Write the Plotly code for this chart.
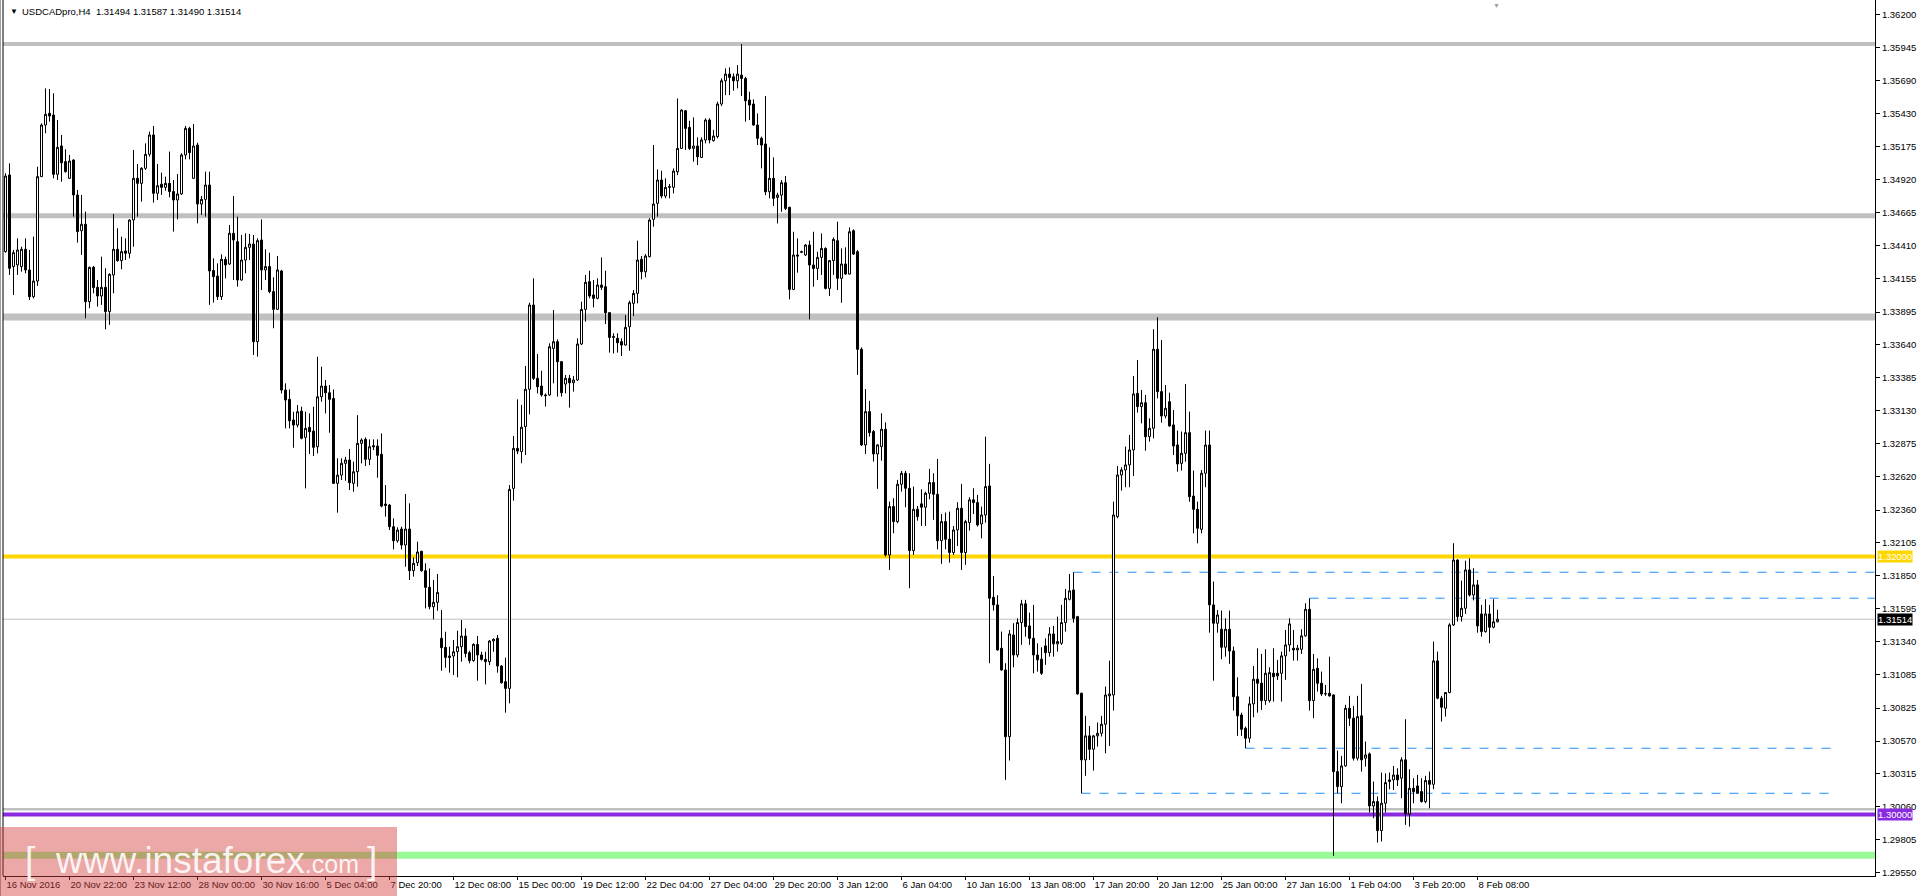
import plotly.graph_objects as go

# ---------------- data (USDCADpro, H4) ----------------
opens = [
1.34363,1.34957,1.34247,1.34260,1.34247,1.34381,1.34221,1.34014,1.34135,1.34944,
1.35344,1.35435,1.35422,1.34962,1.35182,1.35060,1.34931,1.35073,1.34802,1.34525,
1.34575,1.33975,1.34241,1.34086,1.34019,1.34086,1.33898,1.34182,1.34381,1.34293,
1.34368,1.34350,1.34608,1.34931,1.34892,1.35009,1.35117,1.35267,1.34815,1.34885,
1.34861,1.34892,1.34828,1.34763,1.34810,1.35112,1.35318,1.34931,1.35189,1.34732,
1.34768,1.34879,1.34216,1.34174,1.34014,1.34303,1.34267,1.34505,1.34440,1.34143,
1.34298,1.34396,1.34422,1.33665,1.34453,1.34221,1.34247,1.34053,1.33916,1.34213,
1.33290,1.33218,1.33058,1.33019,1.33127,1.32923,1.33001,1.32972,1.32851,1.33238,
1.33321,1.33269,1.33225,1.32567,1.32631,1.32722,1.32748,1.32567,1.32657,1.32877,
1.32908,1.32753,1.32859,1.32856,1.32792,1.32407,1.32399,1.32231,1.32122,1.32213,
1.32089,1.32213,1.31890,1.31952,1.32040,1.31890,1.31761,1.31611,1.31645,1.31366,
1.31296,1.31229,1.31229,1.31262,1.31301,1.31384,1.31255,1.31193,1.31319,1.31237,
1.31203,1.31185,1.31345,1.31366,1.31151,1.31030,1.30978,1.32528,1.32838,1.32813,
1.33007,1.33296,1.33949,1.33381,1.33321,1.33252,1.33252,1.33613,1.33665,1.33510,
1.33337,1.33381,1.33347,1.33368,1.33647,1.33915,1.34130,1.34027,1.34001,1.34104,
1.34091,1.33890,1.33698,1.33691,1.33665,1.33639,1.33781,1.33962,1.34039,1.34303,
1.34207,1.34324,1.34613,1.34737,1.34918,1.34794,1.34861,1.34861,1.34982,1.35163,
1.35455,1.35326,1.35163,1.35181,1.35093,1.35228,1.35383,1.35223,1.35254,1.35507,
1.35687,1.35739,1.35718,1.35687,1.35731,1.35705,1.35538,1.35507,1.35344,1.35241,
1.35197,1.34827,1.34931,1.34783,1.34801,1.34897,1.34706,1.34070,1.34337,1.34358,
1.34337,1.34414,1.34259,1.34233,1.34318,1.34388,1.34078,1.34293,1.34448,1.34156,
1.34267,1.34189,1.34525,1.34362,1.33606,1.32865,1.33123,1.32968,1.32795,1.32852,
1.32986,1.32012,1.32387,1.32271,1.32560,1.32645,1.32529,1.32046,1.32366,1.32408,
1.32382,1.32490,1.32573,1.32482,1.32123,1.32271,1.32134,1.32031,1.32206,1.32374,
1.32031,1.32263,1.32439,1.32418,1.32253,1.32322,1.32547,1.31684,1.31625,1.31289,
1.31121,1.30604,1.31392,1.31237,1.31488,1.31633,1.31462,1.31366,1.31237,1.31204,
1.31307,1.31255,1.31400,1.31323,1.31328,1.31488,1.31668,1.31741,1.31534,1.30940,
1.30424,1.30610,1.30506,1.30610,1.30630,1.30700,1.30920,1.30927,1.32309,1.32632,
1.32671,1.32710,1.32826,1.33265,1.33162,1.33192,1.32929,1.32994,1.33606,1.33278,
1.33089,1.33200,1.33020,1.32865,1.32722,1.32800,1.32960,1.32469,1.32366,1.32211,
1.32645,1.32864,1.31625,1.31483,1.31436,1.31297,1.31436,1.31268,1.30914,1.30772,
1.30669,1.30592,1.30858,1.31049,1.31018,1.30883,1.30883,1.31095,1.31095,1.31095,
1.31230,1.31315,1.31289,1.31276,1.31281,1.31385,1.31591,1.30883,1.31134,1.31018,
1.30935,1.30940,1.30927,1.30333,1.30217,1.30377,1.30824,1.30747,1.30437,1.30765,
1.30437,1.30470,1.30067,1.30101,1.29876,1.30088,1.30256,1.30269,1.30307,1.30282,
1.30424,1.30005,1.30204,1.30222,1.30178,1.30101,1.30264,1.30235,1.31191,1.30902,
1.30824,1.30946,1.31470,1.31973,1.31534,1.31599,1.31896,1.31702,1.31780,1.31555,
1.31418,1.31555,1.31452,1.31494]

highs = [
1.34970,1.35047,1.34376,1.34466,1.34401,1.34466,1.34376,1.34479,1.35021,1.35357,
1.35628,1.35623,1.35590,1.35383,1.35267,1.35156,1.35112,1.35078,1.34841,1.34802,
1.34673,1.34247,1.34252,1.34143,1.34324,1.34234,1.34195,1.34655,1.34544,1.34479,
1.34466,1.34613,1.35151,1.35042,1.35016,1.35202,1.35293,1.35337,1.35042,1.34975,
1.34944,1.35138,1.34918,1.34965,1.35125,1.35337,1.35331,1.35352,1.35207,1.34794,
1.34983,1.34983,1.34311,1.34272,1.34342,1.34324,1.34569,1.34794,1.34634,1.34492,
1.34505,1.34500,1.34492,1.34466,1.34613,1.34381,1.34355,1.34164,1.34329,1.34221,
1.33342,1.33295,1.33122,1.33174,1.33161,1.33122,1.33109,1.33161,1.33548,1.33471,
1.33368,1.33329,1.33295,1.32761,1.32761,1.32773,1.32833,1.32735,1.33096,1.32916,
1.32923,1.32908,1.32908,1.32908,1.32954,1.32554,1.32407,1.32296,1.32226,1.32231,
1.32484,1.32412,1.31993,1.32115,1.32045,1.31947,1.31908,1.31818,1.31864,1.31585,
1.31417,1.31301,1.31353,1.31425,1.31508,1.31443,1.31270,1.31327,1.31384,1.31262,
1.31262,1.31353,1.31366,1.31392,1.31159,1.31216,1.32554,1.32934,1.33218,1.33175,
1.33477,1.33967,1.34156,1.33569,1.33440,1.33264,1.33652,1.33910,1.33683,1.33515,
1.33407,1.33407,1.33399,1.33691,1.33975,1.34182,1.34215,1.34143,1.34156,1.34318,
1.34215,1.33895,1.33730,1.33730,1.33691,1.33872,1.33983,1.34065,1.34448,1.34329,
1.34344,1.34621,1.35189,1.35000,1.34990,1.34931,1.34887,1.35008,1.35550,1.35465,
1.35460,1.35377,1.35403,1.35248,1.35248,1.35396,1.35396,1.35305,1.35525,1.35705,
1.35783,1.35791,1.35744,1.35809,1.35972,1.35718,1.35602,1.35543,1.35434,1.35254,
1.35569,1.35171,1.35093,1.34819,1.34918,1.34949,1.34711,1.34517,1.34466,1.34370,
1.34422,1.34448,1.34517,1.34362,1.34504,1.34396,1.34298,1.34473,1.34595,1.34388,
1.34396,1.34551,1.34535,1.34375,1.33621,1.33298,1.33206,1.32981,1.32870,1.33110,
1.33040,1.32426,1.32452,1.32594,1.32663,1.32663,1.32645,1.32542,1.32392,1.32521,
1.32503,1.32679,1.32645,1.32756,1.32330,1.32341,1.32348,1.32237,1.32421,1.32563,
1.32284,1.32459,1.32529,1.32477,1.32387,1.32929,1.32718,1.31849,1.31700,1.31418,
1.31173,1.31431,1.31483,1.31521,1.31664,1.31664,1.31565,1.31625,1.31328,1.31297,
1.31366,1.31452,1.31462,1.31534,1.31625,1.31748,1.31864,1.31878,1.31540,1.30945,
1.30765,1.30687,1.30617,1.30713,1.30765,1.30992,1.31193,1.32425,1.32702,1.32691,
1.32852,1.32942,1.33399,1.33523,1.33291,1.33252,1.33071,1.33761,1.33854,1.33678,
1.33329,1.33270,1.33136,1.32976,1.32968,1.33337,1.33123,1.32666,1.32425,1.32671,
1.32976,1.32976,1.31806,1.31586,1.31581,1.31521,1.31581,1.31302,1.31064,1.30790,
1.30682,1.30914,1.31152,1.31289,1.31245,1.31281,1.31142,1.31289,1.31199,1.31263,
1.31431,1.31521,1.31431,1.31315,1.31436,1.31638,1.31676,1.31245,1.31211,1.31108,
1.31005,1.31224,1.30932,1.30496,1.30455,1.30850,1.30920,1.30842,1.30920,1.31013,
1.30566,1.30481,1.30256,1.30140,1.30326,1.30320,1.30326,1.30377,1.30359,1.30444,
1.30739,1.30351,1.30282,1.30307,1.30282,1.30300,1.30333,1.31341,1.31263,1.30920,
1.30950,1.31483,1.32103,1.31978,1.31813,1.31968,1.31986,1.31909,1.31818,1.31625,
1.31669,1.31625,1.31669,1.31587]

lows = [
1.34355,1.34182,1.34027,1.34182,1.34208,1.34195,1.33988,1.34001,1.34097,1.34944,
1.35280,1.35370,1.34931,1.34918,1.34905,1.34975,1.34925,1.34634,1.34433,1.34337,
1.33846,1.33924,1.34040,1.33937,1.33950,1.33761,1.33795,1.34040,1.34285,1.34226,
1.34298,1.34311,1.34401,1.34634,1.34750,1.34996,1.35099,1.34743,1.34763,1.34802,
1.34835,1.34784,1.34518,1.34613,1.34802,1.35078,1.35078,1.34925,1.34582,1.34647,
1.34634,1.33950,1.33968,1.33988,1.33988,1.34156,1.34260,1.34143,1.34092,1.34138,
1.34195,1.34298,1.33562,1.33549,1.34066,1.34143,1.34040,1.33769,1.33911,1.33264,
1.32993,1.32993,1.32843,1.33001,1.32908,1.32528,1.32794,1.32779,1.32799,1.33200,
1.33109,1.32959,1.32562,1.32340,1.32593,1.32587,1.32515,1.32502,1.32541,1.32722,
1.32701,1.32709,1.32825,1.32611,1.32381,1.32309,1.32205,1.32055,1.32107,1.32055,
1.31921,1.31818,1.31844,1.31926,1.31882,1.31598,1.31590,1.31513,1.31580,1.31115,
1.31138,1.31100,1.31082,1.31064,1.31185,1.31218,1.31172,1.31185,1.31038,1.31193,
1.31009,1.31159,1.31262,1.31100,1.31015,1.30790,1.30862,1.32433,1.32794,1.32723,
1.32787,1.33102,1.33368,1.33264,1.33239,1.33162,1.33245,1.33342,1.33239,1.33239,
1.33264,1.33154,1.33278,1.33360,1.33639,1.33820,1.34001,1.33931,1.33993,1.34065,
1.33802,1.33580,1.33574,1.33580,1.33554,1.33635,1.33595,1.33864,1.33962,1.34148,
1.34164,1.34318,1.34556,1.34634,1.34776,1.34776,1.34776,1.34814,1.34956,1.35158,
1.35150,1.35150,1.35060,1.35034,1.35088,1.35202,1.35202,1.35215,1.35241,1.35491,
1.35576,1.35576,1.35610,1.35628,1.35569,1.35370,1.35383,1.35339,1.35189,1.35008,
1.34801,1.34776,1.34716,1.34582,1.34672,1.34685,1.33993,1.34065,1.34200,1.34352,
1.34329,1.33838,1.34091,1.34143,1.34182,1.34070,1.34019,1.34182,1.34065,1.33967,
1.34182,1.34185,1.34337,1.33407,1.32857,1.32795,1.32929,1.32736,1.32524,1.32743,
1.32000,1.31896,1.32180,1.32258,1.32503,1.32382,1.31754,1.32012,1.32278,1.32237,
1.32237,1.32444,1.32284,1.32056,1.31943,1.32056,1.31953,1.32012,1.32082,1.31896,
1.31935,1.32201,1.32330,1.32232,1.32141,1.32263,1.31173,1.31581,1.31271,1.31116,
1.30269,1.30419,1.31142,1.31219,1.31315,1.31379,1.31315,1.31095,1.31108,1.31082,
1.31160,1.31224,1.31224,1.31263,1.31315,1.31418,1.31660,1.31488,1.30930,1.30165,
1.30300,1.30424,1.30341,1.30527,1.30605,1.30475,1.30532,1.30806,1.32296,1.32511,
1.32537,1.32537,1.32624,1.33115,1.33032,1.32820,1.32890,1.32916,1.33226,1.33038,
1.33071,1.33007,1.32787,1.32658,1.32666,1.32735,1.32425,1.32180,1.32102,1.32180,
1.32537,1.31410,1.31038,1.31410,1.31204,1.31224,1.31168,1.30806,1.30610,1.30610,
1.30514,1.30558,1.30754,1.30790,1.30811,1.30850,1.30868,1.30876,1.31044,1.30876,
1.31044,1.31263,1.31193,1.31193,1.31245,1.31379,1.30806,1.30747,1.30953,1.30920,
1.30920,1.30914,1.29680,1.30165,1.30088,1.30372,1.30687,1.30419,1.30419,1.30333,
1.30372,1.30016,1.29972,1.29783,1.29791,1.30016,1.30196,1.30191,1.30222,1.30127,
1.29920,1.29907,1.30088,1.30160,1.30093,1.30088,1.30049,1.30196,1.30894,1.30721,
1.30759,1.30940,1.31462,1.31496,1.31496,1.31555,1.31690,1.31660,1.31410,1.31379,
1.31410,1.31328,1.31444,1.31490]

closes = [
1.34949,1.34234,1.34355,1.34376,1.34381,1.34221,1.34014,1.34135,1.34944,1.35344,
1.35427,1.35414,1.34962,1.35171,1.35052,1.34983,1.35065,1.34802,1.34518,1.34575,
1.33975,1.34241,1.34084,1.34019,1.34086,1.33898,1.34187,1.34381,1.34293,1.34363,
1.34350,1.34608,1.34931,1.34892,1.35009,1.35117,1.35267,1.34815,1.34874,1.34861,
1.34892,1.34828,1.34763,1.34810,1.35112,1.35318,1.35130,1.35182,1.34732,1.34768,
1.34879,1.34213,1.34169,1.34014,1.34303,1.34260,1.34505,1.34453,1.34143,1.34298,
1.34396,1.34422,1.33665,1.34448,1.34221,1.34247,1.34053,1.33916,1.34221,1.33290,
1.33213,1.33052,1.33019,1.33122,1.32916,1.32993,1.32967,1.32846,1.33238,1.33321,
1.33269,1.33218,1.32567,1.32631,1.32722,1.32748,1.32572,1.32657,1.32877,1.32903,
1.32753,1.32851,1.32851,1.32784,1.32391,1.32396,1.32231,1.32122,1.32205,1.32089,
1.32213,1.31890,1.31947,1.32035,1.31890,1.31761,1.31611,1.31645,1.31722,1.31293,
1.31218,1.31218,1.31262,1.31301,1.31384,1.31249,1.31193,1.31319,1.31237,1.31203,
1.31185,1.31345,1.31358,1.31151,1.31022,1.30978,1.32520,1.32838,1.32817,1.33002,
1.33296,1.33949,1.33381,1.33316,1.33252,1.33247,1.33626,1.33665,1.33510,1.33270,
1.33381,1.33347,1.33368,1.33647,1.33915,1.34125,1.34019,1.34001,1.34104,1.34086,
1.33890,1.33698,1.33704,1.33657,1.33639,1.33776,1.33967,1.34039,1.34298,1.34207,
1.34329,1.34608,1.34732,1.34918,1.34794,1.34861,1.34866,1.34987,1.35163,1.35460,
1.35318,1.35163,1.35181,1.35098,1.35228,1.35383,1.35228,1.35259,1.35507,1.35687,
1.35739,1.35713,1.35687,1.35739,1.35705,1.35532,1.35499,1.35344,1.35241,1.35189,
1.34827,1.34931,1.34776,1.34801,1.34897,1.34698,1.34070,1.34337,1.34329,1.34362,
1.34414,1.34259,1.34233,1.34318,1.34388,1.34078,1.34293,1.34458,1.34156,1.34267,
1.34189,1.34517,1.34344,1.33606,1.32865,1.33123,1.32960,1.32795,1.32865,1.32986,
1.32012,1.32387,1.32271,1.32560,1.32645,1.32529,1.32046,1.32366,1.32309,1.32382,
1.32490,1.32573,1.32482,1.32123,1.32271,1.32134,1.32031,1.32206,1.32374,1.32031,
1.32271,1.32439,1.32418,1.32245,1.32322,1.32542,1.31677,1.31625,1.31276,1.31121,
1.30604,1.31400,1.31237,1.31488,1.31633,1.31457,1.31366,1.31237,1.31199,1.31095,
1.31255,1.31400,1.31323,1.31341,1.31488,1.31676,1.31734,1.31521,1.30935,1.30424,
1.30610,1.30506,1.30610,1.30630,1.30700,1.30927,1.30935,1.32322,1.32632,1.32671,
1.32710,1.32826,1.33260,1.33162,1.33192,1.32929,1.32994,1.33606,1.33278,1.33089,
1.33149,1.33012,1.32857,1.32717,1.32800,1.32960,1.32464,1.32366,1.32219,1.32645,
1.32864,1.31625,1.31483,1.31547,1.31297,1.31436,1.31268,1.30914,1.30765,1.30661,
1.30592,1.30858,1.31049,1.31018,1.30883,1.31095,1.31100,1.31069,1.31075,1.31230,
1.31315,1.31478,1.31276,1.31289,1.31385,1.31591,1.30883,1.31126,1.31018,1.30935,
1.30938,1.30920,1.30333,1.30217,1.30377,1.30824,1.30747,1.30437,1.30759,1.30424,
1.30462,1.30067,1.30101,1.29876,1.30088,1.30248,1.30269,1.30307,1.30269,1.30424,
1.30005,1.30204,1.30178,1.30165,1.30101,1.30264,1.30235,1.31191,1.30902,1.30832,
1.30946,1.31470,1.31973,1.31534,1.31599,1.31896,1.31702,1.31780,1.31462,1.31418,
1.31555,1.31452,1.31494,1.31514]

time_labels = ["16 Nov 2016", "20 Nov 22:00", "23 Nov 12:00", "28 Nov 00:00", "30 Nov 16:00",
               "5 Dec 04:00", "7 Dec 20:00", "12 Dec 08:00", "15 Dec 00:00", "19 Dec 12:00",
               "22 Dec 04:00", "27 Dec 04:00", "29 Dec 20:00", "3 Jan 12:00", "6 Jan 04:00",
               "10 Jan 16:00", "13 Jan 08:00", "17 Jan 20:00", "20 Jan 12:00", "25 Jan 00:00",
               "27 Jan 16:00", "1 Feb 04:00", "3 Feb 20:00", "8 Feb 08:00"]
time_label_bars = [0, 16, 32, 48, 64, 80, 96, 112, 128, 144, 160, 176, 192, 208, 224,
                   240, 256, 272, 288, 304, 320, 336, 352, 368]

price_ticks = [1.36200, 1.35945, 1.35690, 1.35430, 1.35175, 1.34920, 1.34665, 1.34410,
               1.34155, 1.33895, 1.33640, 1.33385, 1.33130, 1.32875, 1.32620, 1.32360,
               1.32105, 1.31850, 1.31595, 1.31340, 1.31085, 1.30825, 1.30570, 1.30315,
               1.30060, 1.29805, 1.29550]

gray_levels = [1.35972, 1.34640, 1.33856, 1.30041]
yellow_level = 1.32000
purple_level = 1.30000
green_level = 1.29685
dashed_start_bars = [267, 326, 310, 269]
dashed_prices = [1.31878, 1.31677, 1.30514, 1.30165]

# ---------------- figure ----------------
n = len(closes)
bars = list(range(n))
FONT = "Liberation Sans"
X_MIN, X_MAX = -0.625, 467.375   # 4 px per bar, candle edges on half pixels (crisp)
Y_MIN, Y_MAX = 1.29524, 1.36313
PW, PH = 1872, 876  # plot area size in px

fig = go.Figure(go.Candlestick(
    x=bars, open=opens, high=highs, low=lows, close=closes,
    increasing=dict(line=dict(color="black", width=1), fillcolor="white"),
    decreasing=dict(line=dict(color="black", width=1), fillcolor="black"),
    whiskerwidth=0, hoverinfo="skip", showlegend=False))

shapes = []
gray_widths = [4, 5, 7, 2.5]
for lvl, w in zip(gray_levels, gray_widths):
    shapes.append(dict(type="line", xref="paper", x0=0, x1=1, yref="y", y0=lvl, y1=lvl,
                       line=dict(color="#C0C0C0", width=w), layer="below"))
shapes.append(dict(type="line", xref="paper", x0=0, x1=1, yref="y", y0=yellow_level, y1=yellow_level,
                   line=dict(color="#FFD700", width=4), layer="below"))
shapes.append(dict(type="line", xref="paper", x0=0, x1=1, yref="y", y0=purple_level, y1=purple_level,
                   line=dict(color="#8A2BE2", width=4), layer="below"))
shapes.append(dict(type="line", xref="paper", x0=0, x1=1, yref="y", y0=green_level, y1=green_level,
                   line=dict(color="#98FB98", width=7), layer="below"))
# current bid line
shapes.append(dict(type="line", xref="paper", x0=0, x1=1, yref="y", y0=closes[-1], y1=closes[-1],
                   line=dict(color="#C0C0C0", width=1), layer="below"))
# dashed horizontal trend lines
dash_ends = [X_MAX, X_MAX, 457.75, 457.75]
for xs, p, xe in zip(dashed_start_bars, dashed_prices, dash_ends):
    shapes.append(dict(type="line", xref="x", x0=xs, x1=xe, yref="y", y0=p, y1=p,
                       line=dict(color="#1E90FF", width=1, dash="dash"), layer="below"))
# left border
shapes.append(dict(type="line", xref="paper", x0=0, x1=0, yref="paper", y0=0, y1=1,
                   line=dict(color="black", width=1)))
shapes.append(dict(type="line", xref="paper", x0=-2.5 / PW, x1=-2.5 / PW, yref="paper", y0=-20 / PH, y1=1,
                   line=dict(color="#A0A0A0", width=1)))
# watermark box
shapes.append(dict(type="rect", xref="paper", yref="paper", x0=-3 / PW, x1=394 / PW,
                   y0=-20 / PH, y1=49 / PH, fillcolor="rgba(213,60,60,0.45)",
                   line=dict(width=0), layer="above"))

WM_COLOR = "rgba(255,255,255,0.88)"
annotations = [
    dict(xref="paper", yref="paper", x=5 / PW, y=1 - 11 / PH, xanchor="left", yanchor="middle",
         text="▼", showarrow=False, font=dict(family=FONT, size=8, color="black")),
    dict(xref="paper", yref="paper", x=17 / PW, y=1 - 11 / PH, xanchor="left", yanchor="middle",
         text="USDCADpro,H4  %.5f %.5f %.5f %.5f" % (opens[-1], highs[-1], lows[-1], closes[-1]),
         showarrow=False, font=dict(family=FONT, size=9.5, color="black")),
    dict(xref="x", yref="paper", x=372.75, y=1.0, xanchor="center", yanchor="top",
         text="▼", showarrow=False, font=dict(family=FONT, size=7, color="#A0A0A0")),
    dict(xref="paper", yref="paper", x=20 / PW, y=16 / PH, xanchor="left", yanchor="middle",
         text="[", showarrow=False, font=dict(family=FONT, size=37, color=WM_COLOR)),
    dict(xref="paper", yref="paper", x=50 / PW, y=16 / PH, xanchor="left", yanchor="middle",
         text="www.instaforex<span style='font-size:25px'>.com</span>", showarrow=False,
         font=dict(family=FONT, size=37, color=WM_COLOR)),
    dict(xref="paper", yref="paper", x=362 / PW, y=16 / PH, xanchor="left", yanchor="middle",
         text="]", showarrow=False, font=dict(family=FONT, size=37, color=WM_COLOR)),
]
for p, bg in [(yellow_level, "#FFD700"), (purple_level, "#8A2BE2"), (closes[-1], "black")]:
    annotations.append(dict(xref="paper", yref="y", x=1, y=p, xanchor="left", yanchor="middle",
                            xshift=2, text="%.5f" % p, showarrow=False, bgcolor=bg, borderpad=0,
                            font=dict(family=FONT, size=9.5, color="white")))

fig.update_layout(
    width=1920, height=896,
    margin=dict(l=3, r=45, t=0, b=20, pad=0, autoexpand=False),
    paper_bgcolor="white", plot_bgcolor="white",
    boxgap=0.5, boxgroupgap=0,
    shapes=shapes, annotations=annotations,
    showlegend=False,
    xaxis=dict(range=[X_MIN, X_MAX], showgrid=False, zeroline=False,
               tickmode="array", tickvals=time_label_bars, ticktext=time_labels,
               ticks="outside", ticklen=3, tickcolor="black", tickwidth=1,
               ticklabelposition="outside right", tickangle=0,
               showline=True, linecolor="black", linewidth=1,
               tickfont=dict(family=FONT, size=9.5, color="black"),
               rangeslider=dict(visible=False), fixedrange=True),
    yaxis=dict(range=[Y_MIN, Y_MAX], side="right", showgrid=False, zeroline=False,
               tickmode="array", tickvals=price_ticks, ticktext=["%.5f" % t for t in price_ticks],
               ticks="outside", ticklen=4, tickcolor="black", tickwidth=1,
               showline=True, linecolor="black", linewidth=1,
               tickfont=dict(family=FONT, size=9.5, color="black"), fixedrange=True),
)

fig.write_html("out.html", include_plotlyjs=True, config={"displayModeBar": False},
               post_script="document.body.style.margin='0';document.body.style.overflow='hidden';")
